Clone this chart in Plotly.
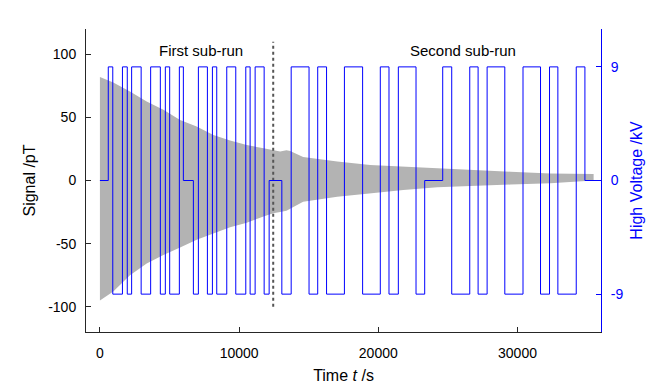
import plotly.graph_objects as go

# envelope of the precession signal (pT)
t_env = [0, 960, 2160, 3360, 4560, 5760, 6950, 8150, 9350, 10550, 11750, 12450,
         12950, 13400, 13670, 14600, 17050, 19420, 21800, 24240, 26620, 29500,
         32370, 35470]
sig_upper = [82, 77.6, 70.5, 62.5, 56, 48, 42.7, 36, 31.6, 28.2, 25.5, 24,
             22.9, 24, 23.4, 18.7, 15, 12.3, 11, 9.4, 8.3, 7, 5.6, 5.2]
sig_lower = [-95, -88, -75, -65.7, -59, -53, -47, -41.7, -37, -33.5, -28.5, -26,
             -25, -24, -22, -16.8, -12.9, -10.2, -7.5, -5.4, -4.4, -3.2, -2.2, 0]

# high voltage switching (kV): level starting at each time
hv_t = [0, 600, 923, 1619, 1966, 2278, 2962, 3645, 4341, 4700,
        5012, 5707, 5995, 6715, 7074, 7722, 8082, 8393, 9113, 9760,
        10480, 10791, 11151, 11799, 12158, 13070, 13741, 15024, 15647, 16283,
        17566, 18873, 20144, 20768, 21439, 22710, 23333, 24628, 25276, 26571,
        27170, 27818, 29089, 30396, 31655, 32302, 32901, 34221, 34844, 35660]
hv_kv = [0, 9, -9, 9, -9, 9, -9, 9, -9, 9,
         -9, 9, 0, -9, 9, -9, 9, -9, 9, -9,
         9, -9, 9, -9, 0, -9, 9, -9, 9, -9,
         9, -9, 9, -9, 9, -9, 0, 9, -9, 9,
         -9, 9, -9, 9, -9, 9, -9, 9, 0, 0]

split_t = 12450
split_y = [-100, 110]
run_labels = ["First sub-run", "Second sub-run"]
run_label_t = [7270, 26100]
run_label_y = 103

x_ticks = [0, 10000, 20000, 30000]
y_ticks = [-100, -50, 0, 50, 100]
hv_ticks = [-9, 0, 9]

FONT = "Liberation Sans, Arial, sans-serif"
INK = "#262626"

fig = go.Figure()
fig.add_trace(go.Scatter(
    x=t_env + t_env[::-1],
    y=sig_upper + sig_lower[::-1],
    fill="toself", fillcolor="#b3b3b3",
    line=dict(width=0), mode="lines", hoverinfo="skip",
))
fig.add_trace(go.Scatter(
    x=hv_t, y=hv_kv, yaxis="y2", mode="lines",
    line=dict(color="#0000ff", width=1, shape="hv"),
))
fig.add_trace(go.Scatter(
    x=[split_t, split_t], y=split_y, mode="lines",
    line=dict(color="#555555", width=2, dash="dot"),
))
for label, t in zip(run_labels, run_label_t):
    fig.add_annotation(x=t, y=run_label_y, text=label, showarrow=False,
                       font=dict(size=15, color="black", family=FONT))

# the page body adds 8px, so margins are trimmed by that much
fig.update_layout(
    width=664, height=390,
    margin=dict(l=78, r=71, t=21, b=66),
    paper_bgcolor="white", plot_bgcolor="white",
    showlegend=False,
    font=dict(family=FONT, size=14, color="black"),
    xaxis=dict(
        range=[-1000, 36000], tickvals=x_ticks, tickformat="d",
        showline=True, linecolor=INK, linewidth=1,
        ticks="inside", ticklen=5, tickcolor=INK, ticklabelstandoff=8,
        showgrid=False, zeroline=False, automargin=False,
        title=dict(text="Time <i>t</i> /s", font=dict(size=16), standoff=10),
    ),
    yaxis=dict(
        range=[-120, 120], tickvals=y_ticks,
        ticktext=[str(v) for v in y_ticks],
        showline=True, linecolor=INK, linewidth=1,
        ticks="inside", ticklen=5, tickcolor=INK, ticklabelstandoff=6,
        showgrid=False, zeroline=False, automargin=False,
        title=dict(text="Signal /pT", font=dict(size=16), standoff=8),
    ),
    yaxis2=dict(
        range=[-12, 12], tickvals=hv_ticks,
        ticktext=[str(v) for v in hv_ticks],
        overlaying="y", side="right",
        showline=True, linecolor="#0000ff", linewidth=1,
        ticks="inside", ticklen=5, tickcolor="#0000ff", ticklabelstandoff=6,
        tickfont=dict(color="#0000ff"),
        showgrid=False, zeroline=False, automargin=False,
        title=dict(text="High Voltage /kV", font=dict(size=16, color="#0000ff"),
                   standoff=8),
    ),
)

fig.write_html("out.html")
